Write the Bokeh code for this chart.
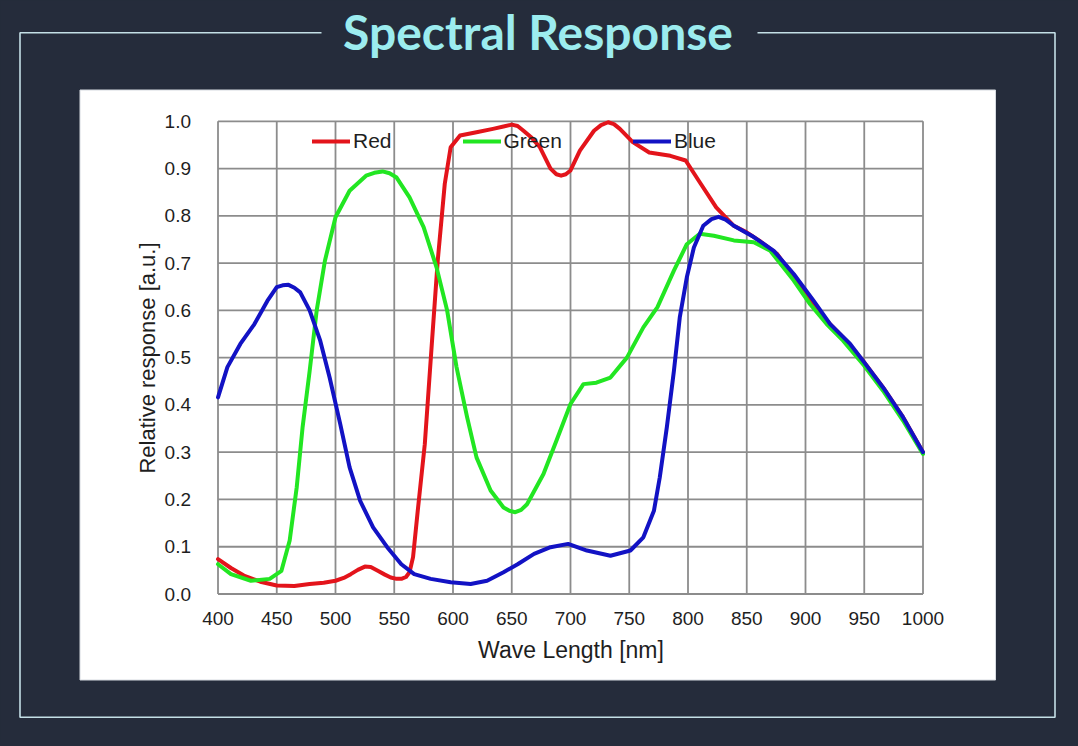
from bokeh.plotting import figure
from bokeh.models import (Range1d, LinearAxis, FixedTicker, PrintfTickFormatter,
                          Legend, LegendItem)
from bokeh.core.properties import value
from bokeh.embed import file_html
from bokeh.resources import INLINE

# ---------------- data ----------------
title_text = "Spectral Response"
x_label = "Wave Length [nm]"
y_label = "Relative response [a.u.]"
x_ticks = [400, 450, 500, 550, 600, 650, 700, 750, 800, 850, 900, 950, 1000]
y_ticks = [0.0, 0.1, 0.2, 0.3, 0.4, 0.5, 0.6, 0.7, 0.8, 0.9, 1.0]
series_names = ["Red", "Green", "Blue"]

wl_red = [400, 411, 422, 436, 450, 465, 478, 490, 500, 507, 513, 519, 525, 530,
          536, 542, 547, 552, 556, 560, 563, 566, 570, 576, 582, 587, 593, 598,
          606, 620, 634, 643, 650, 655, 660, 667, 674, 683, 688, 692, 696, 700,
          708, 720, 726, 732, 737, 742, 753, 767, 785, 798, 810, 824, 839, 850,
          861, 876, 890, 904, 918, 932, 950, 966, 983, 1000]
red = [0.074, 0.055, 0.039, 0.026, 0.018, 0.017, 0.021, 0.024, 0.028, 0.034,
       0.042, 0.051, 0.058, 0.057, 0.049, 0.041, 0.035, 0.032, 0.032, 0.036,
       0.046, 0.078, 0.176, 0.317, 0.530, 0.705, 0.868, 0.945, 0.970, 0.977,
       0.984, 0.989, 0.993, 0.990, 0.980, 0.965, 0.945, 0.900, 0.888, 0.885,
       0.888, 0.896, 0.938, 0.980, 0.992, 0.998, 0.994, 0.984, 0.956, 0.934,
       0.927, 0.917, 0.871, 0.818, 0.779, 0.765, 0.747, 0.719, 0.670, 0.620,
       0.578, 0.543, 0.490, 0.437, 0.374, 0.300]

wl_green = [400, 411, 428, 444, 454, 461, 467, 472, 478, 484, 491, 500, 512, 526,
            533, 540, 546, 552, 563, 575, 586, 595, 603, 612, 620, 632, 643, 648,
            653, 658, 663, 677, 688, 700, 711, 722, 734, 748, 762, 774, 788, 799,
            810, 822, 839, 856, 870, 890, 904, 918, 932, 950, 966, 983, 1000]
green = [0.063, 0.042, 0.028, 0.032, 0.049, 0.113, 0.226, 0.353, 0.472, 0.600,
         0.705, 0.797, 0.853, 0.885, 0.891, 0.894, 0.890, 0.881, 0.839, 0.776,
         0.691, 0.600, 0.480, 0.374, 0.289, 0.219, 0.183, 0.176, 0.173, 0.178,
         0.190, 0.254, 0.324, 0.402, 0.444, 0.447, 0.458, 0.500, 0.564, 0.607,
         0.684, 0.740, 0.762, 0.758, 0.748, 0.744, 0.726, 0.663, 0.613, 0.571,
         0.536, 0.483, 0.430, 0.367, 0.296]

wl_blue = [400, 408, 419, 431, 442, 450, 455, 460, 465, 470, 478, 487, 495, 504,
           512, 521, 532, 544, 556, 567, 581, 598, 615, 629, 643, 655, 669, 683,
           698, 714, 734, 751, 762, 771, 776, 782, 788, 793, 799, 805, 813, 820,
           826, 832, 839, 856, 873, 890, 907, 921, 938, 950, 966, 983, 1000]
blue = [0.416, 0.480, 0.529, 0.571, 0.620, 0.649, 0.653, 0.654, 0.648, 0.638,
        0.600, 0.536, 0.458, 0.360, 0.268, 0.197, 0.141, 0.099, 0.063, 0.042,
        0.032, 0.025, 0.021, 0.028, 0.046, 0.063, 0.085, 0.099, 0.106, 0.092,
        0.081, 0.092, 0.120, 0.176, 0.247, 0.353, 0.472, 0.585, 0.670, 0.733,
        0.779, 0.793, 0.798, 0.792, 0.779, 0.755, 0.726, 0.677, 0.620, 0.571,
        0.529, 0.490, 0.437, 0.374, 0.300]

# ---------------- layout / style ----------------
BG = "#252c3b"
FRAME_COL = "#c4dfe6"
TITLE_COL = "#9cecef"
GRID_COL = "#8c8c8c"
TXT = "#1e1e1e"
COLORS = ["#e3141b", "#22e622", "#1212c4"]
FONT = "Liberation Sans"

W, H = 1074, 742
PL, PR, PT, PB = 217.5, 922.5, 120.8, 593.5   # plot area in canvas px
X0, X1 = x_ticks[0], x_ticks[-1]
Y0, Y1 = y_ticks[0], y_ticks[-1]
kx = (PR - PL) / (X1 - X0)
ky = (PB - PT) / (Y1 - Y0)
xr = Range1d(X0 - PL / kx, X1 + (W - PR) / kx)
yr = Range1d(Y0 - (H - PB) / ky, Y1 + PT / ky)

p = figure(width=W, height=H, x_range=xr, y_range=yr,
           x_axis_location=None, y_axis_location=None, min_border=0,
           toolbar_location=None, output_backend="svg",
           background_fill_color=BG, border_fill_color=BG,
           outline_line_color=None)
p.grid.visible = False
p.extra_x_ranges = {"px": Range1d(0, W)}
p.extra_y_ranges = {"px": Range1d(H, 0)}

# outer frame with a gap for the title
gap_l, gap_r = 321, 757
bx0, by0, bx1, by1 = 19.5, 32.3, 1054.5, 716.7
p.multi_line(xs=[[gap_l, bx0, bx0, bx1, bx1, gap_r]],
             ys=[[by0, by0, by1, by1, by0, by0]],
             x_range_name="px", y_range_name="px",
             line_color=FRAME_COL, line_width=1.6)

# title
p.text(x=[537.5], y=[31], text=[title_text], x_range_name="px", y_range_name="px",
       text_font=value("Lato"), text_font_style="bold",
       text_font_size="48px", text_color=TITLE_COL,
       text_align="center", text_baseline="middle")

# white panel
p.quad(left=[79.5], right=[995], top=[89.5], bottom=[679.5],
       x_range_name="px", y_range_name="px",
       fill_color="white", line_color="#d6dae0", line_width=1)

# grid (incl. plot border)
p.segment(x0=x_ticks, x1=x_ticks, y0=[Y0] * len(x_ticks), y1=[Y1] * len(x_ticks),
          line_color=GRID_COL, line_width=1.8)
p.segment(x0=[X0] * len(y_ticks), x1=[X1] * len(y_ticks), y0=y_ticks, y1=y_ticks,
          line_color=GRID_COL, line_width=1.8)

# curves
renderers = []
for wl, vals, col in zip([wl_red, wl_green, wl_blue], [red, green, blue], COLORS):
    r = p.line(wl, vals, line_color=col, line_width=4, line_join="round",
               line_cap="round")
    renderers.append(r)

# axes
xaxis = LinearAxis(fixed_location=Y0, bounds=(X0, X1),
                   ticker=FixedTicker(ticks=x_ticks), axis_label=x_label)
yaxis = LinearAxis(fixed_location=X0, bounds=(Y0, Y1),
                   ticker=FixedTicker(ticks=y_ticks), axis_label=y_label,
                   formatter=PrintfTickFormatter(format="%.1f"))
for ax in (xaxis, yaxis):
    ax.axis_line_color = None
    ax.major_tick_line_color = None
    ax.minor_tick_line_color = None
    ax.major_label_text_font = FONT
    ax.major_label_text_font_size = "19px"
    ax.major_label_text_color = TXT
    ax.axis_label_text_font = FONT
    ax.axis_label_text_font_style = "normal"
    ax.axis_label_text_color = TXT
xaxis.axis_label_text_font_size = "23px"
yaxis.axis_label_text_font_size = "22px"
xaxis.major_label_standoff = 12
xaxis.axis_label_standoff = 8
yaxis.major_label_standoff = 21
yaxis.axis_label_standoff = 2
p.add_layout(xaxis, "below")
p.add_layout(yaxis, "left")

# legend
legend = Legend(items=[LegendItem(label=n, renderers=[r])
                       for n, r in zip(series_names, renderers)],
                orientation="horizontal", location=(312, H - 152.7),
                glyph_width=38, glyph_height=22, label_height=22,
                label_standoff=3, spacing=71, padding=0, margin=0,
                border_line_color=None, background_fill_alpha=0,
                label_text_font=FONT, label_text_font_size="21px",
                label_text_color=TXT)
p.add_layout(legend)

html = file_html(p, INLINE)
html = html.replace("</head>",
                    "<style>html,body{background:%s;}</style></head>" % BG, 1)
open("out.html", "w").write(html)
